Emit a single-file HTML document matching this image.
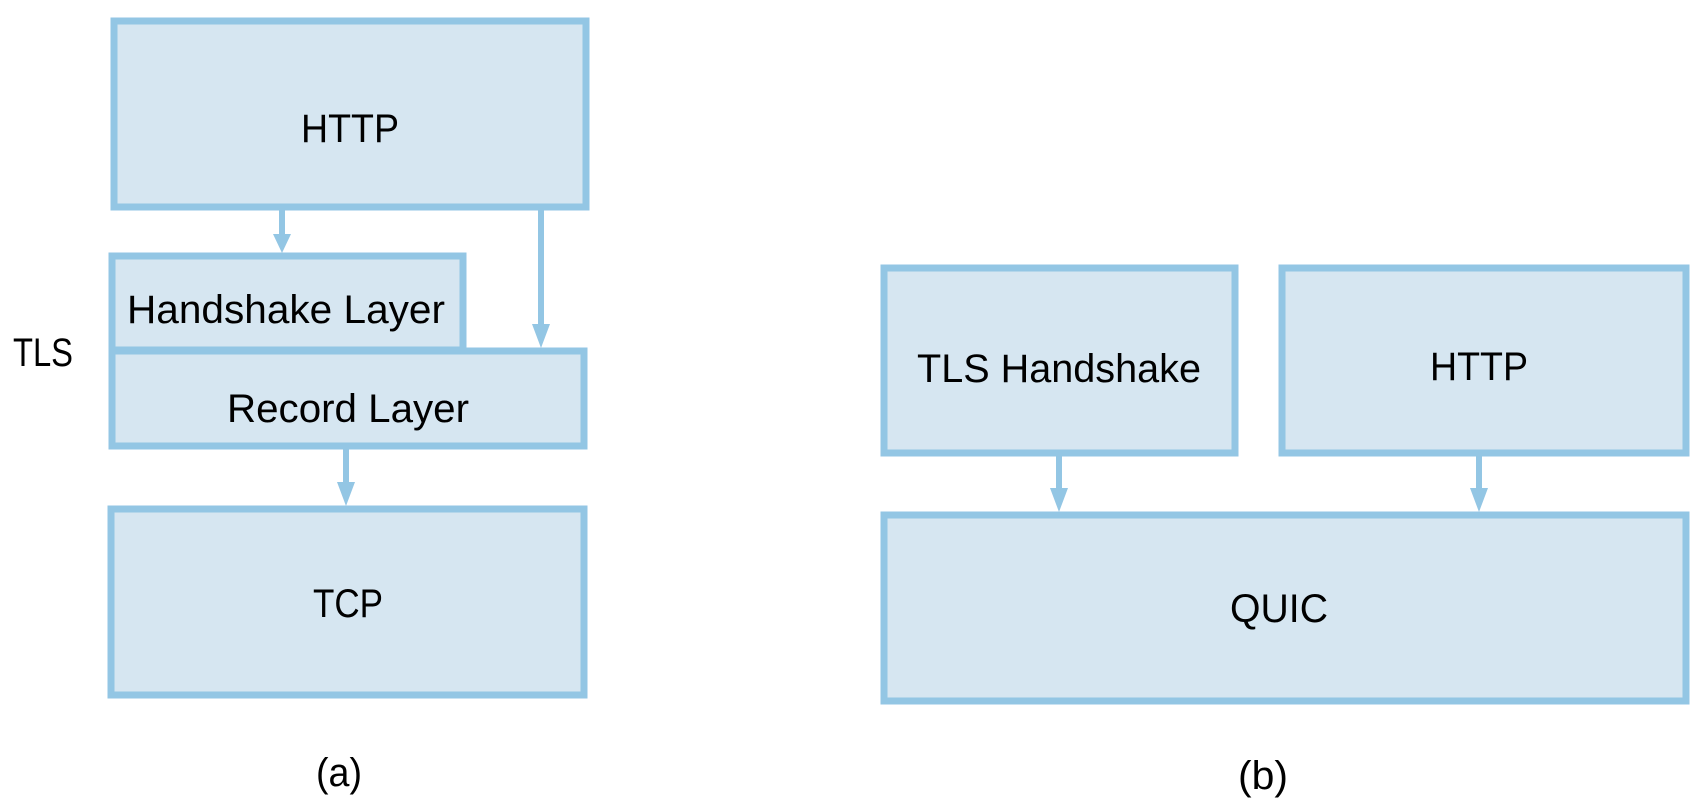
<!DOCTYPE html>
<html><head><meta charset="utf-8"><style>
html,body{margin:0;padding:0;background:#fff;}
svg{display:block}
text{font-family:"Liberation Sans",sans-serif;font-size:40px;fill:#000;text-anchor:middle;dominant-baseline:central}
</style></head><body>
<svg width="1699" height="811" viewBox="0 0 1699 811" xmlns="http://www.w3.org/2000/svg">
<g fill="#d6e6f1" stroke="#93c6e4" stroke-width="7">
<rect x="114" y="21" width="472" height="186"/>
<rect x="112" y="256" width="351" height="94"/>
<rect x="112" y="351" width="472" height="95"/>
<rect x="111" y="509" width="473" height="186"/>
<rect x="884" y="268" width="351" height="185"/>
<rect x="1282" y="268" width="404" height="185"/>
<rect x="884" y="515" width="802" height="186"/>
</g>
<g stroke="#93c6e4" stroke-width="6" fill="none">
<line x1="282" y1="210" x2="282" y2="238"/>
<line x1="541" y1="210" x2="541" y2="330"/>
<line x1="346" y1="449" x2="346" y2="488"/>
<line x1="1059" y1="456" x2="1059" y2="494"/>
<line x1="1479" y1="456" x2="1479" y2="494"/>
</g>
<g fill="#93c6e4">
<polygon points="273,234 291,234 282,253"/>
<polygon points="532,324 550,324 541,348"/>
<polygon points="337,482 355,482 346,506"/>
<polygon points="1050,488 1068,488 1059,512"/>
<polygon points="1470,488 1488,488 1479,512"/>
</g>
<text x="350" y="129" textLength="98" lengthAdjust="spacingAndGlyphs">HTTP</text>
<text x="286" y="310" textLength="318" lengthAdjust="spacingAndGlyphs">Handshake Layer</text>
<text x="348" y="409" textLength="242" lengthAdjust="spacingAndGlyphs">Record Layer</text>
<text x="348" y="604" textLength="70" lengthAdjust="spacingAndGlyphs">TCP</text>
<text x="43" y="353" textLength="60" lengthAdjust="spacingAndGlyphs">TLS</text>
<text x="1059" y="369" textLength="284" lengthAdjust="spacingAndGlyphs">TLS Handshake</text>
<text x="1479" y="367" textLength="98" lengthAdjust="spacingAndGlyphs">HTTP</text>
<text x="1279" y="609" textLength="98" lengthAdjust="spacingAndGlyphs">QUIC</text>
<text x="339" y="773" textLength="46" lengthAdjust="spacingAndGlyphs">(a)</text>
<text x="1263" y="776" textLength="50" lengthAdjust="spacingAndGlyphs">(b)</text>
</svg>
</body></html>
